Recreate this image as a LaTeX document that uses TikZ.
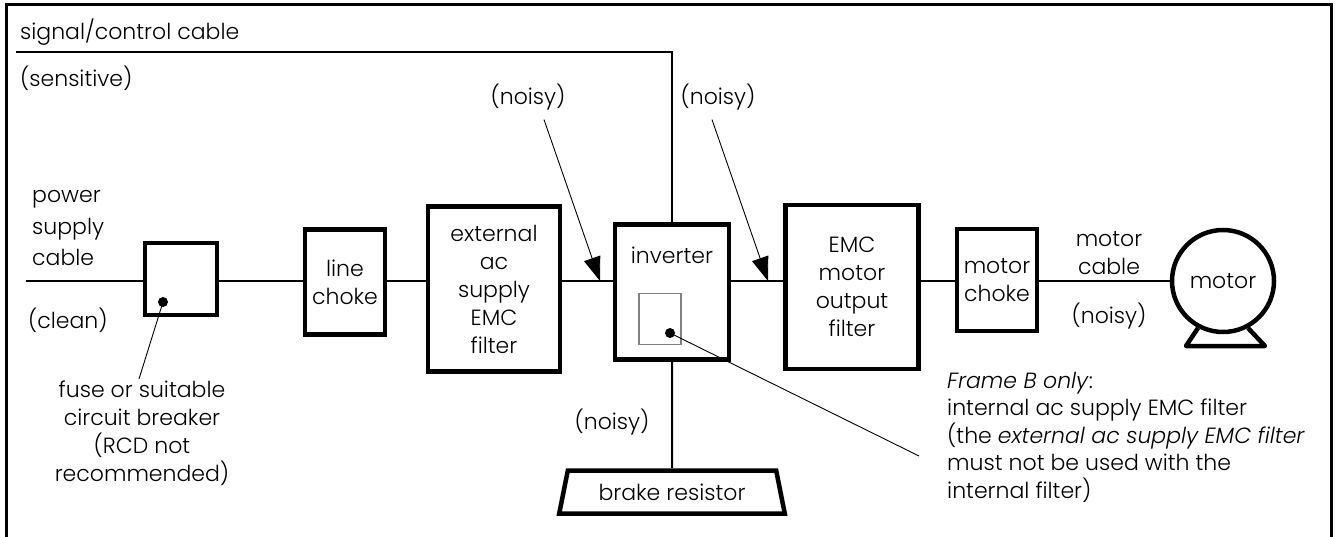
\documentclass[tikz,border=0pt]{standalone}
\usepackage{fontspec}
\setmainfont{Poppins}[UprightFont=* Light, ItalicFont=* Light Italic]
\usetikzlibrary{arrows.meta,shapes.geometric,calc}

\tikzset{
  unit/.style={draw, line width=4.5pt, inner sep=0pt, align=center},
  wire/.style={line width=2pt},
  leader/.style={line width=0.9pt},
  tag/.style={inner sep=0pt, align=left},
  dot/.style={circle, fill, inner sep=0pt, minimum size=10pt},
  noisetip/.style={leader, -{Triangle[length=24pt,width=17pt]}},
}

\begin{document}
\begin{tikzpicture}[x=1pt,y=-1pt,font=\fontsize{22}{28}\selectfont]
\useasboundingbox (0,0) rectangle (1337,537);
% frame, open at the bottom
\draw[line width=3pt] (6,537) -- (6,5) -- (1331,5) -- (1331,537);

% units
\node[unit, minimum width=72pt, minimum height=72pt] (fuse) at (181,279) {};
\node[unit, minimum width=80pt, minimum height=105pt] (linechoke) at (345,282) {line\\choke};
\node[unit, minimum width=132pt, minimum height=165pt] (extfilter) at (494,289) {external\\ac\\supply\\EMC\\filter};
\node[unit, minimum width=114pt, minimum height=135pt] (inverter) at (672,292) {};
\node (invlabel) at (672,255) {inverter};
\node[draw=gray, line width=1.2pt, minimum width=42pt, minimum height=51pt] (intfilter) at (660,319) {};
\node[unit, minimum width=133pt, minimum height=164pt] (outfilter) at (852,287) {EMC\\motor\\output\\filter};
\node[unit, minimum width=80pt, minimum height=102pt] (motorchoke) at (997,280) {motor\\choke};
\node[unit, circle, minimum size=102pt] (motor) at (1223,281) {motor};
\draw[line width=4.5pt, line join=round] (motor.-118) -- (1186,346) -- (1265,346) -- (motor.-62);
\node[unit, trapezium, trapezium stretches=true, trapezium left angle=70,
  trapezium right angle=70, minimum width=226pt, minimum height=43pt] (brake) at (672,492) {brake resistor};

% dots
\node[dot] (fusedot) at (163,302) {};
\node[dot] (intdot) at (670,333) {};

% wires
\coordinate (mainin) at (26,281);
\coordinate (sigin) at (16,52);
\draw[wire] (mainin) -- (mainin -| fuse.west);
\draw[wire] (fuse.east |- mainin) -- (mainin -| linechoke.west);
\draw[wire] (linechoke.east |- mainin) -- (mainin -| extfilter.west);
\draw[wire] (extfilter.east |- mainin) -- (mainin -| inverter.west);
\draw[wire] (inverter.east |- mainin) -- (mainin -| outfilter.west);
\draw[wire] (outfilter.east |- mainin) -- (mainin -| motorchoke.west);
\draw[wire] (motorchoke.east |- mainin) -- (motor.west);
\draw[wire] (sigin) -| (inverter.north);
\draw[wire] (inverter.south) -- (brake.north);

% labels
\node[tag, anchor=west] (sigtext) at (20,32) {signal/control cable};
\node[tag, anchor=west] (senstext) at (20,78) {(sensitive)};
\node[tag, anchor=west, font=\fontsize{22}{31.5}\selectfont] (supplytext) at (32,228) {power\\supply\\cable};
\node[tag, anchor=west] (cleantext) at (28,320) {(clean)};
\node (noisyA) at (528,97) {(noisy)};
\node (noisyB) at (718,97) {(noisy)};
\node (noisyC) at (612,422) {(noisy)};
\node[align=center] (cabletext) at (1109,253) {motor\\cable};
\node (noisyD) at (1109,316) {(noisy)};
\node[inner sep=0pt, align=center, anchor=north, font=\fontsize{22}{28}\selectfont] (fusenote) at (142,381)
  {fuse or suitable\\circuit breaker\\(RCD not\\recommended)};
\node[tag, anchor=north west, font=\fontsize{22}{27.5}\selectfont] (framenote) at (947,372)
  {\textit{Frame B only}:\\internal ac supply EMC filter\\(the \textit{external ac supply EMC filter}\\must not be used with the\\internal filter)};

% leaders and noise arrows
\coordinate (tipA) at (600,281);
\coordinate (tipB) at (768,281);
\coordinate (fuselead) at (139,379);
\coordinate (framelead) at (919,456);
\draw[noisetip] ($(noisyA.south)+(16,6)$) -- (tipA);
\draw[noisetip] ($(noisyB.south)+(-6,6)$) -- (tipB);
\draw[leader] (fusedot.center) -- (fuselead);
\draw[leader] (intdot.center) -- (framelead);
\end{tikzpicture}
\end{document}
